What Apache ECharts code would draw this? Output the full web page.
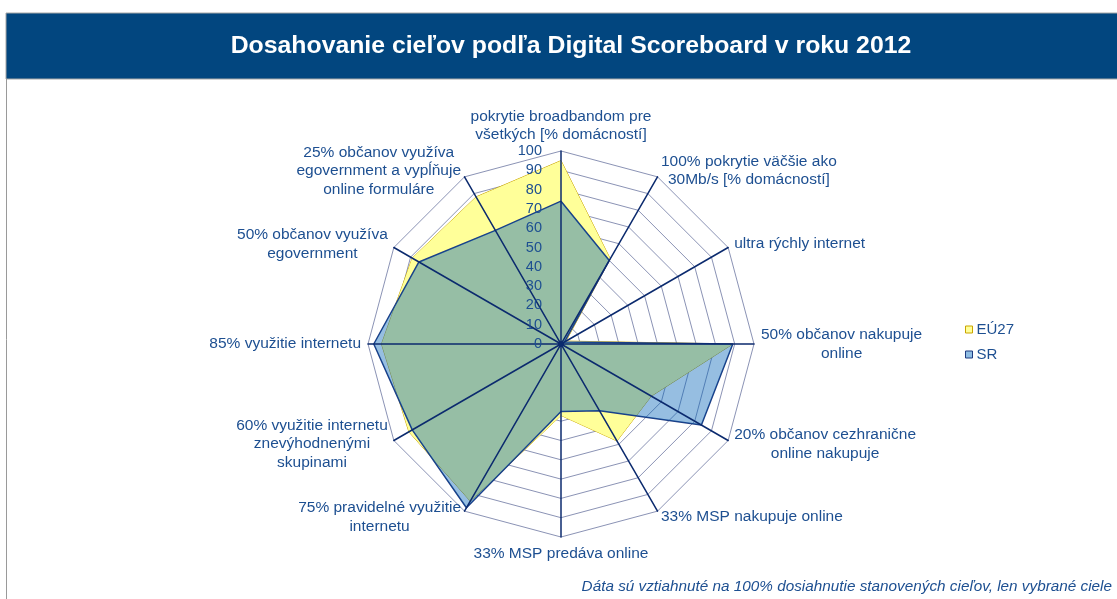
<!DOCTYPE html>
<html><head><meta charset="utf-8">
<script src="https://cdn.jsdelivr.net/npm/echarts@6/dist/echarts.min.js"></script>
<style>html,body{margin:0;padding:0;background:#fff}#c{width:1117px;height:599px}</style>
</head><body><div id="c"></div>
<script>
// ---- data (clockwise from top) ----
const titleText = 'Dosahovanie cieľov podľa Digital Scoreboard v roku 2012';
const footnoteText = 'Dáta sú vztiahnuté na 100% dosiahnutie stanovených cieľov, len vybrané ciele';
const categories = [
  'pokrytie broadbandom pre\nvšetkých [% domácností]',
  '100% pokrytie väčšie ako\n30Mb/s [% domácností]',
  'ultra rýchly internet',
  '50% občanov nakupuje\nonline',
  '20% občanov cezhranične\nonline nakupuje',
  '33% MSP nakupuje online',
  '33% MSP predáva online',
  '75% pravidelné využitie\ninternetu',
  '60% využitie internetu\nznevýhodnenými\nskupinami',
  '85% využitie internetu',
  '50% občanov využíva\negovernment',
  '25% občanov využíva\negovernment a vypĺňuje\nonline formuláre'
];
const seriesNames = ['EÚ27', 'SR'];
const valuesEU = [95, 51, 3, 89, 54, 58, 37, 94, 91, 93, 89, 88];
const valuesSR = [74, 50, 2, 89, 84, 40, 35, 98, 89, 97, 85, 68];
const axisMin = 0;
const axisMax = 100;
const splitCount = 10;

// ---- styling ----
const FONT = '"Liberation Sans", Arial, sans-serif';
const TEXT = '#1d4f91';
const CENTER = [561, 344];
const RADIUS = 193;
const NAME_SIZE = 15.5;

// ECharts radar runs counter-clockwise; reorder so the picture runs clockwise.
const n = categories.length;
const order = categories.map((_, i) => (n - i) % n);
const reorder = arr => order.map(i => arr[i]);

const makeIndicators = (withLabel) => order.map((i, k) => {
  const ind = { name: categories[i], min: axisMin, max: axisMax };
  if (withLabel && k === 0) ind.axisLabel = { show: true };
  return ind;
});

const chart = echarts.init(document.getElementById('c'), null, { renderer: 'canvas' });
chart.setOption({
  animation: false,
  backgroundColor: '#ffffff',
  graphic: [
    { type: 'rect', z: 0, shape: { x: 6, y: 13, width: 1130, height: 66 },
      style: { fill: '#02467f', stroke: '#a6a6a6', lineWidth: 1 } },
    { type: 'line', z: 0, shape: { x1: 6.5, y1: 79, x2: 6.5, y2: 600 },
      style: { stroke: '#9a9a9a', lineWidth: 1 } },
    { type: 'text', z: 10, x: 571, y: 46,
      style: { text: titleText, fill: '#ffffff', font: 'bold 24.8px ' + FONT, textAlign: 'center', textVerticalAlign: 'middle' } },
    { type: 'text', z: 10, x: 1112, y: 587,
      style: { text: footnoteText, fill: TEXT, font: 'italic 15.3px ' + FONT, textAlign: 'right', textVerticalAlign: 'middle' } },
    { type: 'circle', z: 100, shape: { cx: CENTER[0], cy: CENTER[1], r: 3 }, style: { fill: '#0b2a6e' } }
  ],
  legend: {
    orient: 'vertical', left: 965, top: 322, padding: 0, itemGap: 10,
    itemWidth: 7, itemHeight: 7, icon: 'rect', selectedMode: false,
    textStyle: { color: TEXT, fontSize: 15, fontFamily: FONT, padding: [0, 0, 0, -1] },
    data: [
      { name: seriesNames[0], itemStyle: { color: '#ffff99', borderColor: '#c9a400', borderWidth: 1 } },
      { name: seriesNames[1], itemStyle: { color: '#8fbde3', borderColor: '#1f3b80', borderWidth: 1 } }
    ]
  },
  radar: [
    {
      center: CENTER, radius: RADIUS, startAngle: 90, splitNumber: splitCount, shape: 'polygon', z: 0,
      indicator: makeIndicators(false),
      axisName: {
        show: true, color: TEXT, fontSize: NAME_SIZE, fontFamily: FONT,
        formatter: name => name.split('\n').map(l => '{c|' + l + '}').join('\n'),
        rich: { c: { align: 'center', color: TEXT, fontSize: NAME_SIZE, fontFamily: FONT, lineHeight: 18.5 } }
      },
      nameGap: 7,
      splitLine: { show: true, lineStyle: { color: '#8b93b5', width: 1 } },
      splitArea: { show: false },
      axisLine: { show: false },
      axisTick: { show: false },
      axisLabel: { show: false }
    },
    {
      center: CENTER, radius: RADIUS, startAngle: 90, splitNumber: splitCount, shape: 'polygon', z: 5,
      indicator: makeIndicators(true),
      axisName: { show: false },
      splitLine: { show: false },
      splitArea: { show: false },
      axisLine: { show: true, lineStyle: { color: '#0b2a6e', width: 1.5 } },
      axisTick: { show: false },
      axisLabel: { show: false, color: TEXT, fontSize: 14.5, fontFamily: FONT, margin: 19 }
    }
  ],
  series: [
    {
      type: 'radar', radarIndex: 0, z: 2, symbol: 'none', silent: true,
      data: [
        { name: seriesNames[0], value: reorder(valuesEU),
          lineStyle: { color: '#c9a400', width: 1 },
          areaStyle: { color: '#ffff99', opacity: 1 },
          itemStyle: { color: '#ffff99' } }
      ]
    },
    {
      type: 'radar', radarIndex: 0, z: 3, symbol: 'none', silent: true,
      data: [
        { name: seriesNames[1], value: reorder(valuesSR),
          lineStyle: { color: '#1f3b80', width: 1.5 },
          areaStyle: { color: 'rgba(0,96,182,0.41)', opacity: 1 },
          itemStyle: { color: '#8fbde3' } }
      ]
    }
  ]
});
</script>
</body></html>
